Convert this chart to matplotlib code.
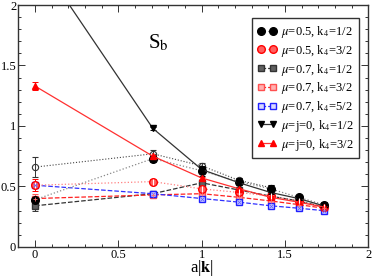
import matplotlib
matplotlib.use('Agg')
import matplotlib.pyplot as plt
from matplotlib.lines import Line2D
from matplotlib.ticker import MultipleLocator

plt.rcParams['font.family'] = ['Liberation Serif', 'DejaVu Serif']
plt.rcParams['mathtext.fontset'] = 'stix'

# |k| values
ak = [0.0, 0.707, 1.0, 1.225, 1.414, 1.581, 1.732]

# mu=0.5, k4=1/2
s_05_1 = [0.39, 0.73, 0.63, 0.54, 0.48, 0.41, 0.35]
e_05_1 = [0.03, 0.03, 0.04, 0.03, 0.03, 0.02, 0.02]
# mu=0.5, k4=3/2
s_05_3 = [0.51, 0.54, 0.48, 0.45, 0.42, 0.38, 0.33]
e_05_3 = [0.05, 0.02, 0.02, 0.02, 0.02, 0.01, 0.01]
# mu=0.7, k4=1/2
s_07_1 = [0.34, 0.44, 0.53, 0.47, 0.42, 0.38, 0.33]
e_07_1 = [0.04, 0.02, 0.02, 0.02, 0.02, 0.01, 0.01]
# mu=0.7, k4=3/2
s_07_3 = [0.40, 0.43, 0.44, 0.41, 0.38, 0.35, 0.32]
e_07_3 = [0.04, 0.02, 0.02, 0.02, 0.01, 0.01, 0.01]
# mu=0.7, k4=5/2
s_07_5 = [0.51, 0.44, 0.40, 0.37, 0.34, 0.32, 0.30]
e_07_5 = [0.02, 0.01, 0.01, 0.01, 0.01, 0.01, 0.01]
# mu=j=0, k4=1/2
s_0_1 = [2.42, 0.98, 0.64, 0.53, 0.45, 0.40, 0.34]
e_0_1 = [0.03, 0.01, 0.01, 0.01, 0.01, 0.01, 0.01]
# mu=j=0, k4=3/2
s_0_3 = [1.33, 0.75, 0.57, 0.48, 0.41, 0.37, 0.33]
e_0_3 = [0.03, 0.01, 0.01, 0.01, 0.01, 0.01, 0.01]
# extra set (open circles, no legend)
ak_x = [0.0, 0.707, 1.0, 1.225, 1.414]
s_x = [0.66, 0.77, 0.67, 0.55, 0.49]
e_x = [0.08, 0.03, 0.02, 0.02, 0.02]

labels = [r'$\mu$=0.5, k$_4$=1/2', r'$\mu$=0.5, k$_4$=3/2', r'$\mu$=0.7, k$_4$=1/2',
          r'$\mu$=0.7, k$_4$=3/2', r'$\mu$=0.7, k$_4$=5/2', r'$\mu$=j=0, k$_4$=1/2',
          r'$\mu$=j=0, k$_4$=3/2']

styles = [
    dict(color='#888888', ls=':', marker='o', mfc='black', mec='black', ms=5.5),
    dict(color='#ff8080', ls=':', marker='o', mfc='#ff6060', mec='red', ms=5.5),
    dict(color='#333333', ls='--', marker='s', mfc='#606060', mec='#333333', ms=5),
    dict(color='#ff2020', ls='--', marker='s', mfc='#ffb0b0', mec='#ff5050', ms=5),
    dict(color='#3030ff', ls='--', marker='s', mfc='#d8d8ff', mec='#2020ff', ms=5),
    dict(color='#333333', ls='-', marker='v', mfc='black', mec='black', ms=4),
    dict(color='#ff3030', ls='-', marker='^', mfc='red', mec='red', ms=4),
]
series = [(s_05_1, e_05_1), (s_05_3, e_05_3), (s_07_1, e_07_1), (s_07_3, e_07_3),
          (s_07_5, e_07_5), (s_0_1, e_0_1), (s_0_3, e_0_3)]
draw_order = [5, 2, 3, 4, 1, 0, 6]

fig = plt.figure(figsize=(3.74, 2.79), dpi=100)
ax = fig.add_axes([0.049, 0.115, 0.936, 0.867])

eb = dict(capsize=2.5, elinewidth=0.7, capthick=0.7)

ax.errorbar(ak_x, s_x, yerr=e_x, color='#444444', ls=':', lw=0.8, marker='o',
            mfc='none', mec='#333333', ms=4.5, mew=0.8, ecolor='#333333', **eb)
for i in draw_order:
    y, e = series[i]
    st = styles[i]
    ax.errorbar(ak, y, yerr=e, lw=0.9, ecolor=st['mec'], zorder=3 + (i >= 5), **st, **eb)

# hatch-like overlays
ax.plot(ak, s_05_3, ls='none', marker='|', color='white', ms=4, mew=0.8, zorder=5)
ax.plot(ak, s_07_5, ls='none', marker='x', color='#6060ff', ms=3, mew=0.6, zorder=5)
ax.plot(ak, s_07_3, ls='none', marker='+', color='#ff7070', ms=3, mew=0.6, zorder=5)

handles = [Line2D([], [], lw=0.9, **st) for st in styles]
leg = ax.legend(handles, labels, loc='upper right', numpoints=2,
                bbox_to_anchor=(0.985, 0.96), fontsize=9, fancybox=False,
                edgecolor='#333333', framealpha=1, handlelength=1.6,
                handletextpad=0.3, labelspacing=0.22, borderpad=0.45,
                borderaxespad=0.3)
leg.get_frame().set_linewidth(1.0)

ax.text(0.74, 1.69, r'S$_\mathrm{b}$', fontsize=15, ha='center', va='center')

ax.set_xlim(-0.1, 2)
ax.set_ylim(0, 2)
ax.xaxis.set_minor_locator(MultipleLocator(0.1))
ax.yaxis.set_minor_locator(MultipleLocator(0.1))
ax.set_xticks([0, 0.5, 1, 1.5, 2])
ax.set_xticklabels(['0', '0.5', '1', '1.5', '2'])
ax.set_yticks([0, 0.5, 1, 1.5, 2])
ax.set_yticklabels(['0', '0.5', '1', '1.5', '2'])
ax.tick_params(which='both', direction='in', top=True, right=True, labelsize=9,
               color='#333333', width=0.7)
ax.tick_params(which='major', length=5, pad=1.5)
ax.tick_params(which='minor', length=2.5)
for s in ax.spines.values():
    s.set_color('#333333')
    s.set_linewidth(1.0)
# x label placed at the very bottom of the figure, under the "1" tick
fig.text(ax.transData.transform((1.0, 0))[0] / fig.bbox.width, 0.004,
         r'a|$\mathbf{k}$|', fontsize=12, ha='center', va='bottom')

fig.savefig('out.png', dpi=100)
